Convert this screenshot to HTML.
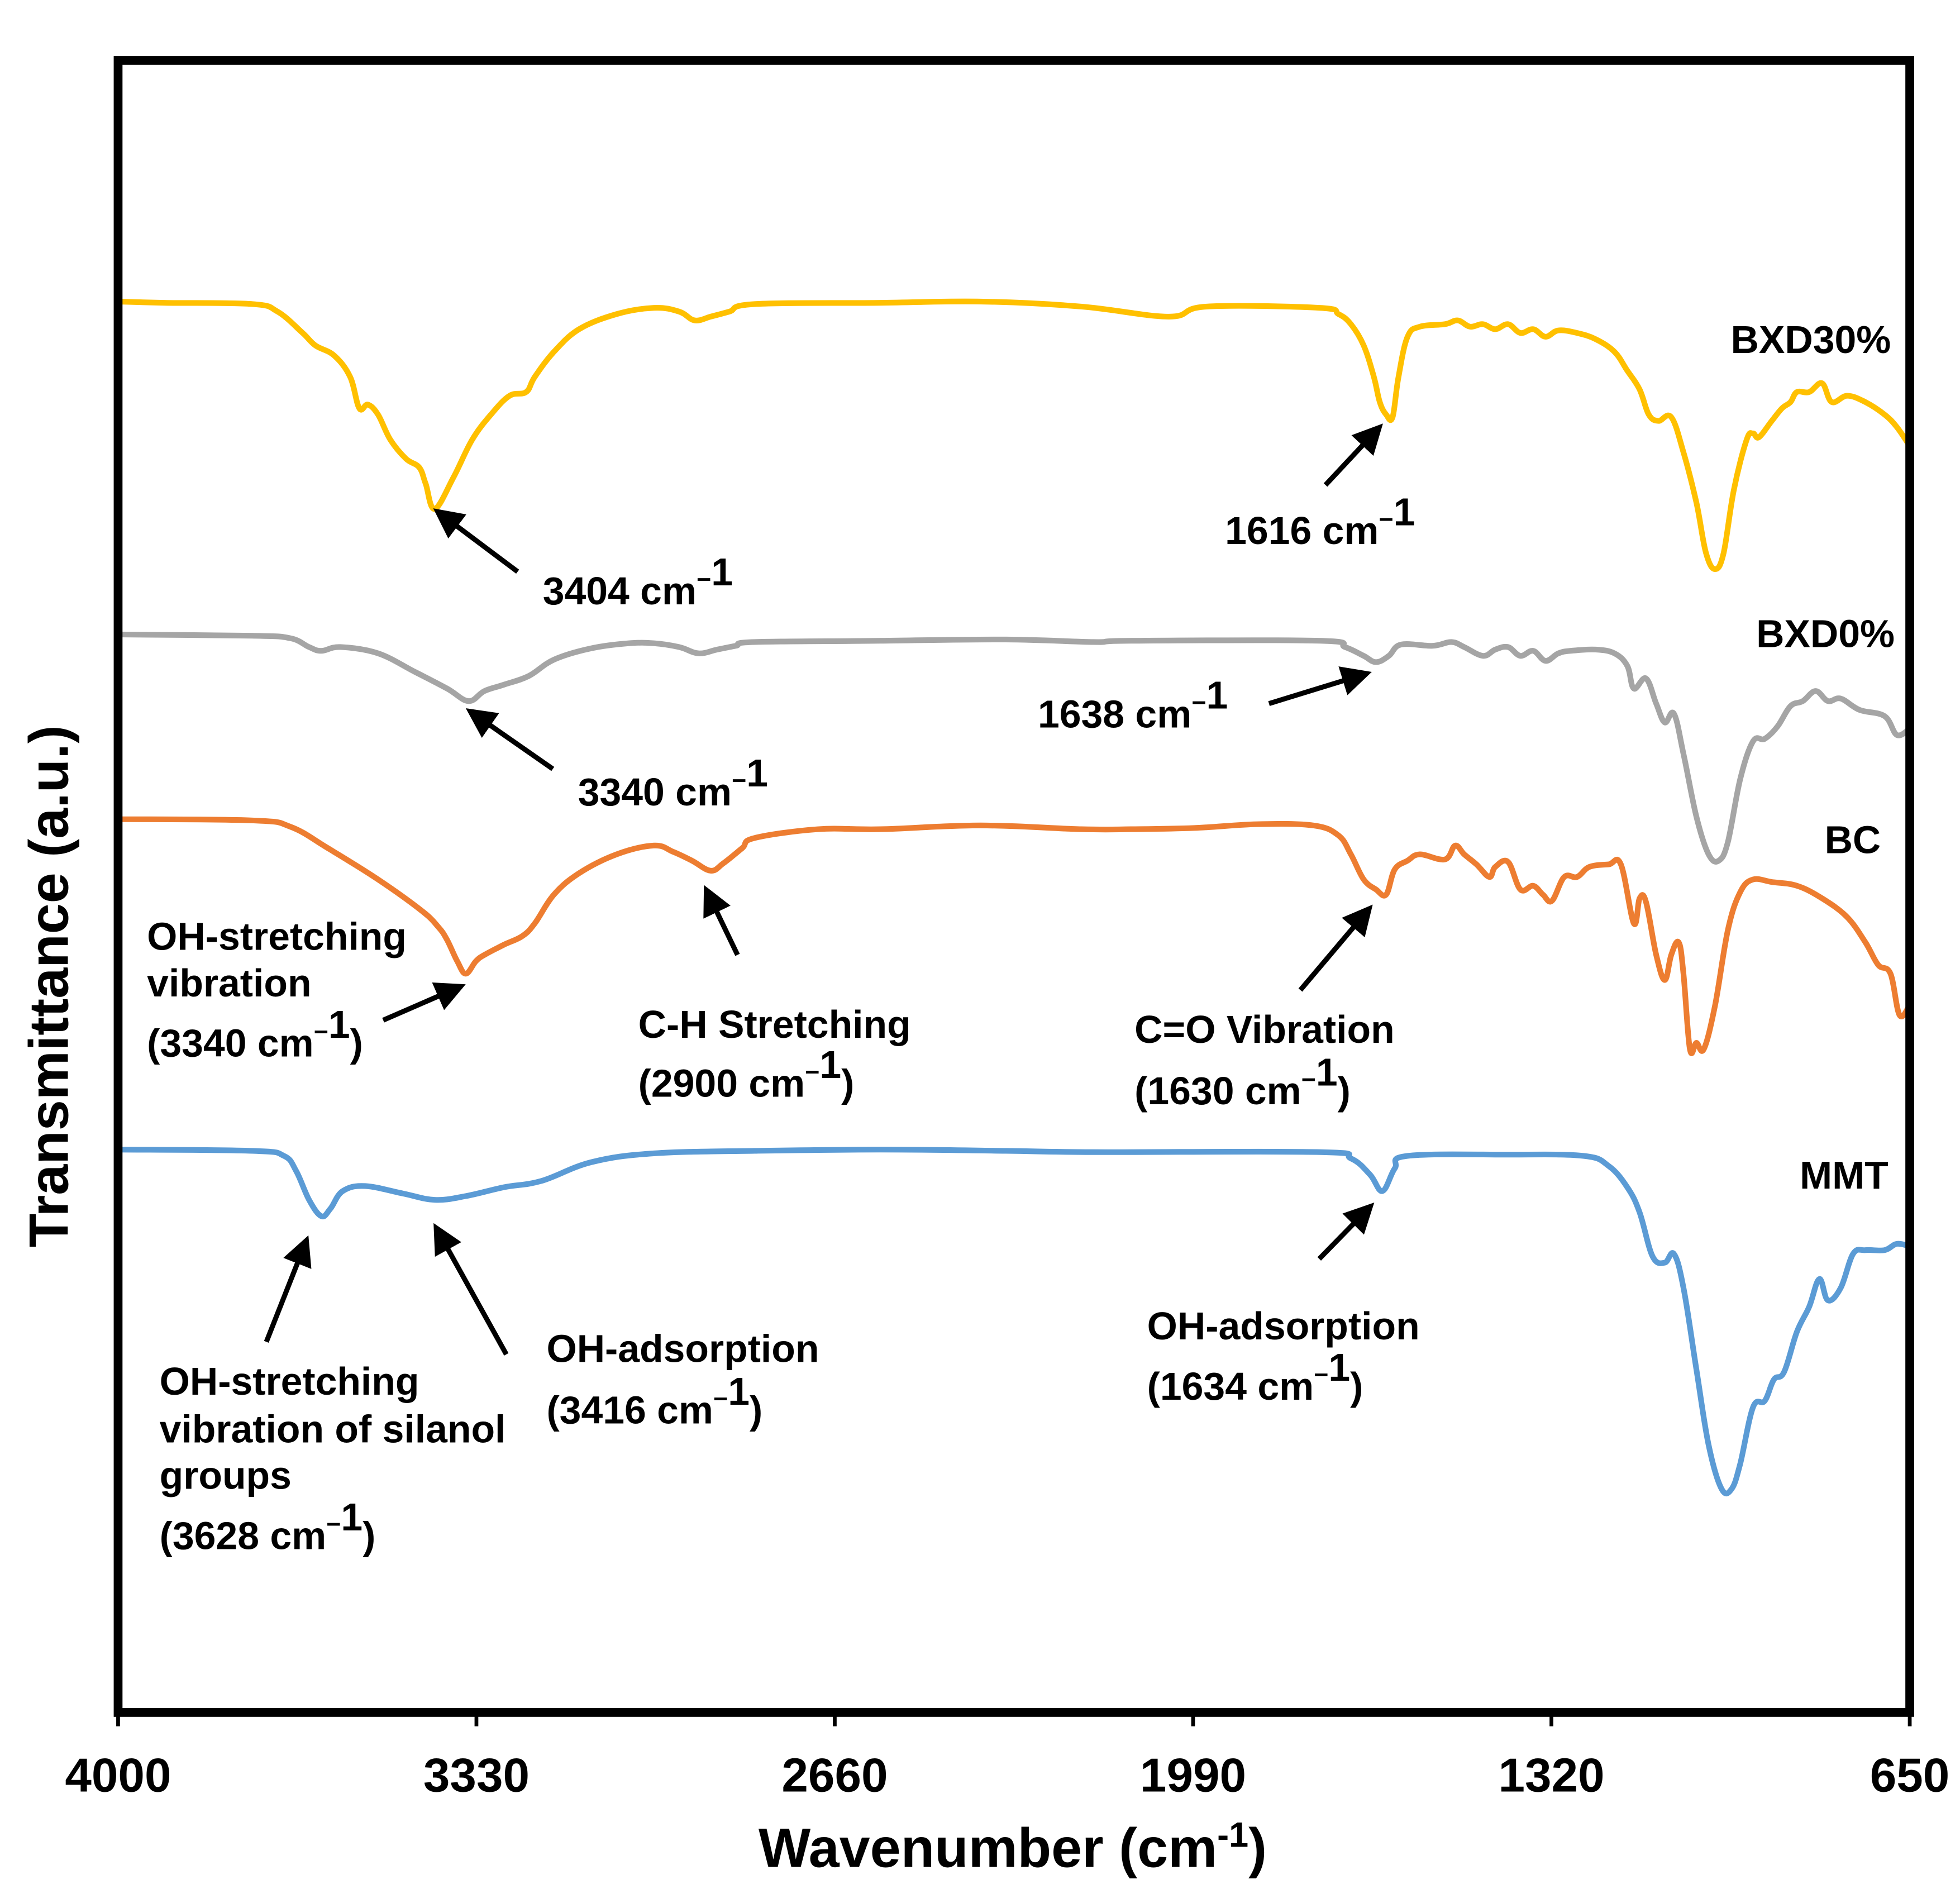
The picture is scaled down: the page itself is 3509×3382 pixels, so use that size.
<!DOCTYPE html>
<html><head><meta charset="utf-8"><style>
html,body{margin:0;padding:0;background:#fff;}
svg{display:block;}
text{font-family:"Liberation Sans",Arial,sans-serif;font-weight:bold;fill:#000;}
</style></head>
<body>
<svg id="chart" width="3509" height="3382" viewBox="0 0 1560 1503.5" xmlns="http://www.w3.org/2000/svg">
<defs>
<marker id="ah" markerWidth="6" markerHeight="6" refX="5" refY="3" orient="auto" markerUnits="strokeWidth">
<path d="M0,0 L6,3 L0,6 Z" fill="#000"/>
</marker>
</defs>
<rect x="0" y="0" width="1560" height="1503.5" fill="#fff"/>
<g id="series"></g>
<rect x="94" y="48" width="1426" height="1315" fill="none" stroke="#000" stroke-width="7"/>
<g id="ticks"></g>
<text x="806" y="1486" text-anchor="middle" font-size="44">Wavenumber (cm<tspan font-size="28" dy="-16">-1</tspan><tspan dy="16">)</tspan></text>
<text transform="translate(54,785) rotate(-90)" text-anchor="middle" font-size="44">Transmittance (a.u.)</text>

<g font-size="31">
<text x="1505" y="281" text-anchor="end">BXD30%</text>
<text x="1508" y="515" text-anchor="end">BXD0%</text>
<text x="1497" y="679" text-anchor="end">BC</text>
<text x="1503" y="946" text-anchor="end">MMT</text>
</g>

<g stroke="#000" stroke-width="4" fill="none">
<line x1="1055" y1="386" x2="1098" y2="340" marker-end="url(#ah)"/>
<line x1="412" y1="455" x2="348" y2="407" marker-end="url(#ah)"/>
<line x1="1010" y1="560" x2="1088" y2="536" marker-end="url(#ah)"/>
<line x1="440" y1="612" x2="374" y2="566" marker-end="url(#ah)"/>
<line x1="305" y1="812" x2="367" y2="785" marker-end="url(#ah)"/>
<line x1="587" y1="760" x2="562" y2="708" marker-end="url(#ah)"/>
<line x1="1035" y1="788" x2="1090" y2="723" marker-end="url(#ah)"/>
<line x1="212" y1="1068" x2="244" y2="987" marker-end="url(#ah)"/>
<line x1="403" y1="1078" x2="347" y2="977" marker-end="url(#ah)"/>
<line x1="1050" y1="1002" x2="1091" y2="960" marker-end="url(#ah)"/>
</g>

<g font-size="31">
<text x="975" y="433">1616 cm<tspan font-size="20" dy="-13">−</tspan><tspan font-size="31" dy="-2">1</tspan></text>
<text x="432" y="481">3404 cm<tspan font-size="20" dy="-13">−</tspan><tspan font-size="31" dy="-2">1</tspan></text>
<text x="826" y="579">1638 cm<tspan font-size="20" dy="-13">−</tspan><tspan font-size="31" dy="-2">1</tspan></text>
<text x="460" y="641">3340 cm<tspan font-size="20" dy="-13">−</tspan><tspan font-size="31" dy="-2">1</tspan></text>
<text x="117" y="756">OH-stretching</text>
<text x="117" y="793">vibration</text>
<text x="117" y="841">(3340 cm<tspan font-size="20" dy="-13">−</tspan><tspan font-size="31" dy="-2">1</tspan><tspan dy="15">)</tspan></text>
<text x="508" y="826">C-H Stretching</text>
<text x="508" y="873">(2900 cm<tspan font-size="20" dy="-13">−</tspan><tspan font-size="31" dy="-2">1</tspan><tspan dy="15">)</tspan></text>
<text x="903" y="830">C=O Vibration</text>
<text x="903" y="879">(1630 cm<tspan font-size="20" dy="-13">−</tspan><tspan font-size="31" dy="-2">1</tspan><tspan dy="15">)</tspan></text>
<text x="127" y="1110">OH-stretching</text>
<text x="127" y="1148">vibration of silanol</text>
<text x="127" y="1185">groups</text>
<text x="127" y="1233">(3628 cm<tspan font-size="20" dy="-13">−</tspan><tspan font-size="31" dy="-2">1</tspan><tspan dy="15">)</tspan></text>
<text x="435" y="1084">OH-adsorption</text>
<text x="435" y="1133">(3416 cm<tspan font-size="20" dy="-13">−</tspan><tspan font-size="31" dy="-2">1</tspan><tspan dy="15">)</tspan></text>
<text x="913" y="1066">OH-adsorption</text>
<text x="913" y="1114">(1634 cm<tspan font-size="20" dy="-13">−</tspan><tspan font-size="31" dy="-2">1</tspan><tspan dy="15">)</tspan></text>
</g>
</svg>
<script>
const tickValues = [4000, 3330, 2660, 1990, 1320, 650];
const tickLabels = ["4000", "3330", "2660", "1990", "1320", "650"];

const bxd30Wn = [4000,3913,3749,3702,3655,3631,3596,3566,3549,3533,3514,3491,3462,3437,3425,3408,3373,3338,3303,3268,3237,3221,3185,3138,3068,2998,2951,2922,2892,2857,2810,2575,2387,2199,2035,1965,1753,1718,1695,1671,1652,1641,1629,1617,1606,1589,1566,1519,1495,1472,1448,1425,1401,1378,1354,1331,1307,1272,1237,1202,1178,1155,1138,1120,1096,1073,1049,1031,1014,998,979,955,943,932,908,889,873,861,838,814,796,767,733,697,674,650];
const bxd30T = [1123,1122,1121,1115,1098,1088,1080,1063,1038,1041,1033,1013,998,991,978,958,983,1013,1033,1048,1051,1063,1083,1101,1113,1118,1115,1108,1111,1115,1121,1122,1123,1119,1111,1119,1118,1113,1105,1088,1063,1043,1033,1031,1063,1095,1103,1105,1108,1103,1105,1101,1105,1098,1101,1095,1100,1098,1093,1083,1068,1053,1033,1028,1031,1003,963,923,910,923,973,1013,1018,1015,1028,1038,1043,1051,1051,1058,1043,1048,1043,1033,1023,1008];

const bxd0Wn = [4000,3749,3678,3643,3620,3584,3514,3444,3385,3345,3315,3279,3232,3185,3115,3045,2998,2951,2915,2880,2845,2810,2575,2340,2176,2106,1753,1706,1671,1648,1624,1601,1542,1507,1483,1448,1425,1401,1378,1354,1331,1307,1284,1237,1202,1178,1166,1143,1124,1108,1091,1073,1049,1026,1007,990,967,943,921,897,873,850,826,803,779,744,697,674,650];
const bxd0T = [858,857,855,848,845,848,843,828,815,805,813,818,825,838,847,851,851,848,843,846,849,852,853,854,852,853,853,848,841,836,841,850,849,852,848,841,846,848,841,845,837,843,845,846,843,833,815,823,803,788,795,763,713,683,678,693,743,773,775,785,801,805,813,805,807,798,793,778,783];

const bcWn = [4000,3749,3678,3608,3514,3432,3401,3385,3366,3350,3331,3315,3279,3244,3221,3185,3138,3068,2998,2962,2927,2892,2868,2833,2810,2692,2575,2387,2199,2106,1988,1871,1765,1718,1695,1671,1648,1629,1613,1589,1566,1519,1500,1483,1460,1436,1425,1401,1378,1354,1336,1319,1296,1272,1249,1213,1190,1166,1155,1143,1124,1108,1096,1082,1073,1061,1049,1035,1014,990,967,943,908,861,814,767,733,709,686,669,650];
const bcT = [711,710,705,688,663,638,625,615,598,588,598,603,611,618,628,651,668,683,690,685,678,670,676,688,696,703,703,706,703,703,704,707,706,698,683,663,655,651,671,678,683,679,690,683,675,665,673,677,655,658,651,646,665,665,673,675,675,628,648,645,603,583,603,613,588,528,533,528,563,623,653,663,661,658,648,633,613,595,588,555,563];

const mmtWn = [4000,3749,3690,3667,3643,3620,3603,3580,3538,3467,3408,3350,3279,3209,3115,2998,2810,2575,2340,2176,1753,1695,1659,1636,1613,1589,1401,1260,1213,1178,1155,1131,1108,1091,1073,1049,1026,1002,983,967,943,921,904,885,861,838,819,803,779,756,733,697,674,650];
const mmtT = [448,447,443,431,408,395,401,415,419,413,408,411,418,423,438,445,447,448,447,446,446,441,428,415,433,443,444,443,435,418,398,363,358,365,338,273,213,178,178,198,243,248,265,271,303,323,345,328,338,365,368,368,373,371];

const X0 = 94, X1 = 1520, YB = 1363;
function xScale(w) { return X0 + (4000 - w) / (4000 - 650) * (X1 - X0); }
function yScale(t) { return YB - t; }

const NS = "http://www.w3.org/2000/svg";
const seriesG = document.getElementById("series");
function drawSeries(wn, t, color, name) {
  const n = Math.min(wn.length, t.length);
  const p = [];
  for (let i = 0; i < n; i++) p.push([xScale(wn[i]), yScale(t[i])]);
  let d = "M" + p[0][0].toFixed(1) + "," + p[0][1].toFixed(1);
  const k = 0.18;
  for (let i = 0; i < n - 1; i++) {
    const p0 = p[Math.max(0, i - 1)], p1 = p[i], p2 = p[i + 1], p3 = p[Math.min(n - 1, i + 2)];
    const c1x = p1[0] + (p2[0] - p0[0]) * k, c1y = p1[1] + (p2[1] - p0[1]) * k;
    const c2x = p2[0] - (p3[0] - p1[0]) * k, c2y = p2[1] - (p3[1] - p1[1]) * k;
    d += " C" + c1x.toFixed(1) + "," + c1y.toFixed(1) + " " + c2x.toFixed(1) + "," + c2y.toFixed(1) + " " + p2[0].toFixed(1) + "," + p2[1].toFixed(1);
  }
  const pl = document.createElementNS(NS, "path");
  pl.setAttribute("d", d);
  pl.setAttribute("fill", "none");
  pl.setAttribute("stroke", color);
  pl.setAttribute("stroke-width", "4.5");
  pl.setAttribute("stroke-linejoin", "round");
  pl.setAttribute("stroke-linecap", "round");
  
  
  seriesG.appendChild(pl);
}
drawSeries(bxd30Wn, bxd30T, "#FFC000", "series-bxd30");
drawSeries(bxd0Wn, bxd0T, "#A5A5A5", "series-bxd0");
drawSeries(bcWn, bcT, "#ED7D31", "series-bc");
drawSeries(mmtWn, mmtT, "#5B9BD5", "series-mmt");

const ticksG = document.getElementById("ticks");
for (let i = 0; i < tickValues.length; i++) {
  const x = xScale(tickValues[i]);
  const ln = document.createElementNS(NS, "line");
  ln.setAttribute("x1", x); ln.setAttribute("x2", x);
  ln.setAttribute("y1", 1366); ln.setAttribute("y2", 1374);
  ln.setAttribute("stroke", "#000"); ln.setAttribute("stroke-width", "3");
  
  
  ticksG.appendChild(ln);
  const tx = document.createElementNS(NS, "text");
  tx.setAttribute("x", x); tx.setAttribute("y", 1426);
  tx.setAttribute("text-anchor", "middle");
  tx.setAttribute("font-size", "38");
  tx.textContent = tickLabels[i];
  
  
  ticksG.appendChild(tx);
}
</script>
</body></html>
